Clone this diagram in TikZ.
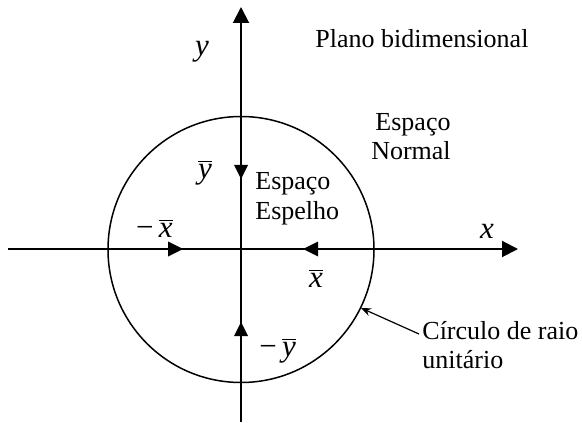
\documentclass[tikz,border=0pt]{standalone}
\usepackage{fontspec}
\setmainfont{Liberation Serif}
\usetikzlibrary{arrows.meta}
\begin{document}
\begin{tikzpicture}[x=0.5pt,y=-0.5pt,
  axis/.style={line width=1pt},
  txt/.style={inner sep=0pt,font=\fontsize{13}{15}\selectfont},
  mth/.style={inner sep=0pt,font=\fontsize{15.5}{18}\selectfont\itshape},
  midtip/.style={fill=black}]
\useasboundingbox (0,0) rectangle (582,422);
\coordinate (O) at (241,249.5);
\coordinate (W) at (8,249);
\coordinate (E) at (518,249);
\coordinate (N) at (241,7);
\coordinate (S) at (241,422);
\draw[axis,-{Triangle[length=8pt,width=8pt]}] (W) -- (E);
\draw[axis,-{Triangle[length=8pt,width=8pt]}] (S) -- (N);
\draw[line width=0.75pt] (O) circle[radius=133];
% arrowheads on the axes
\fill[midtip] (183,249) -- ++(-15,-7.5) -- ++(0,15) -- cycle;
\fill[midtip] (303,249) -- ++(15,-7.5) -- ++(0,15) -- cycle;
\fill[midtip] (241,179) -- ++(-7,-14) -- ++(14,0) -- cycle;
\fill[midtip] (241,322) -- ++(-7,14) -- ++(14,0) -- cycle;
% math labels
\node[mth,anchor=base] (ly) at (202,56) {y};
\node[mth,anchor=base] (lx) at (487,238) {x};
\node[mth,anchor=base] (lyb) at (205,178) {$\overline{\hbox{\itshape y}}$};
\node[mth,anchor=base east] (lmx) at (173,237) {\upshape −\,$\overline{\hbox{\itshape x}}$};
\node[mth,anchor=base] (lxb) at (316,287) {$\overline{\hbox{\itshape x}}$};
\node[mth,anchor=base west] (lmy) at (259,356) {\upshape −\,$\overline{\hbox{\itshape y}}$};
% texts
\node[txt,anchor=base west] (plano) at (315,48) {Plano bidimensional};
\node[txt,anchor=base] (en1) at (413,131) {Espaço};
\node[txt,anchor=base] (en2) at (411,160) {Normal};
\node[txt,anchor=base west] (ee1) at (255,190) {Espaço};
\node[txt,anchor=base west] (ee2) at (255,219) {Espelho};
\node[txt,anchor=base west] (c1) at (422,339) {Círculo de raio};
\node[txt,anchor=base west] (c2) at (422,368) {unitário};
\coordinate (tail) at (419,334);
\coordinate (tip) at (361,308);
\draw[line width=0.6pt,-{Stealth[length=5pt,width=4pt]}] (tail) -- (tip);
\end{tikzpicture}
\end{document}
